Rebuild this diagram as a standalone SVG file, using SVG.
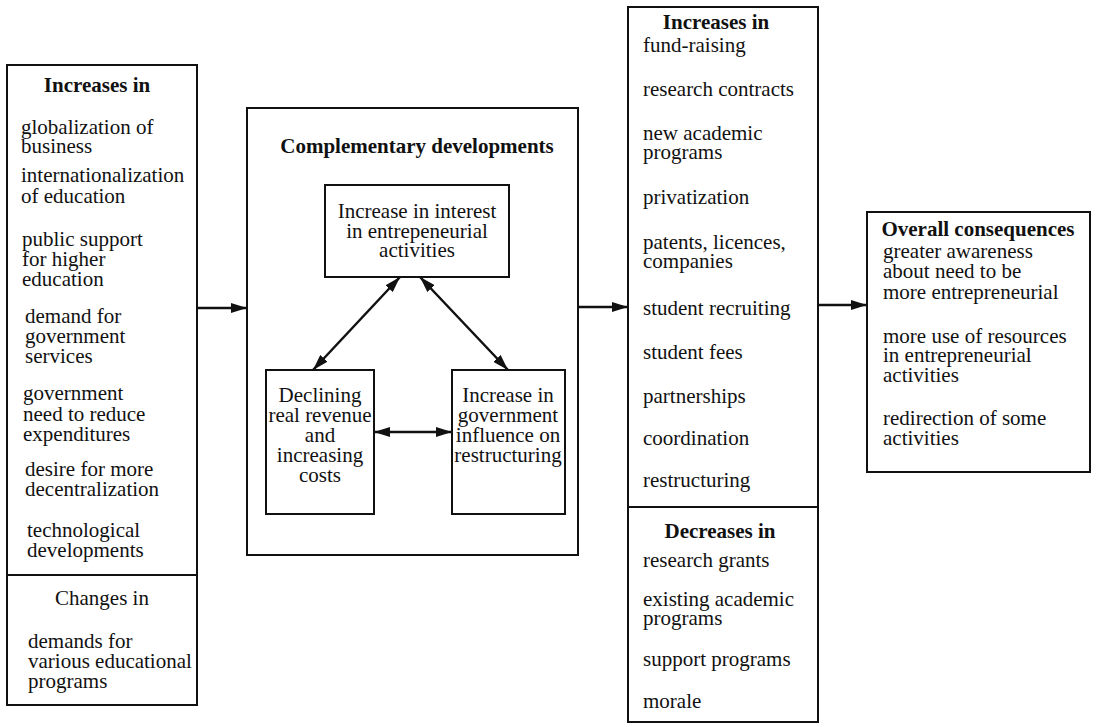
<svg xmlns="http://www.w3.org/2000/svg" width="1096" height="727" viewBox="0 0 1096 727">
<style>
text{font-family:"Liberation Serif","Times New Roman",serif;font-size:21px;fill:#111}
.h{font-weight:bold}
.c{text-anchor:middle}
.box{fill:none;stroke:#111;stroke-width:2}
.ar{fill:none;stroke:#111;stroke-width:2.5}
</style>
<defs>
<marker id="ah" viewBox="0 0 16 10" refX="16" refY="5" markerWidth="16" markerHeight="10" markerUnits="userSpaceOnUse" orient="auto-start-reverse"><path d="M0,0 L16,5 L0,10 z" fill="#111"/></marker>
</defs>
<rect width="1096" height="727" fill="#fff"/>

<g id="drivers">
<rect class="box" x="7" y="65" width="190" height="640"/>
<line class="box" x1="7" y1="575" x2="197" y2="575"/>
<text class="h c" x="97" y="92">Increases in</text>
<text x="21" y="134">globalization of</text>
<text x="21" y="153">business</text>
<text x="21" y="182">internationalization</text>
<text x="21" y="203">of education</text>
<text x="22" y="246">public support</text>
<text x="22" y="266">for higher</text>
<text x="22" y="286">education</text>
<text x="25" y="323">demand for</text>
<text x="25" y="343">government</text>
<text x="25" y="363">services</text>
<text x="23" y="400">government</text>
<text x="23" y="421">need to reduce</text>
<text x="23" y="441">expenditures</text>
<text x="25" y="476">desire for more</text>
<text x="25" y="496">decentralization</text>
<text x="27" y="537">technological</text>
<text x="27" y="557">developments</text>
<text class="c" x="102" y="605">Changes in</text>
<text x="28" y="648">demands for</text>
<text x="28" y="668">various educational</text>
<text x="28" y="688">programs</text>
</g>

<g id="complementary">
<rect class="box" x="247" y="108" width="331" height="447"/>
<text class="h c" x="417" y="153">Complementary developments</text>
</g>

<g id="interest">
<rect class="box" x="325" y="185" width="184" height="92"/>
<text class="c" x="417" y="218">Increase in interest</text>
<text class="c" x="417" y="238">in entrepeneurial</text>
<text class="c" x="417" y="257">activities</text>
</g>

<g id="declining">
<rect class="box" x="266" y="370" width="108" height="144"/>
<text class="c" x="320" y="402">Declining</text>
<text class="c" x="320" y="422">real revenue</text>
<text class="c" x="320" y="442">and</text>
<text class="c" x="320" y="462">increasing</text>
<text class="c" x="320" y="482">costs</text>
</g>

<g id="government">
<rect class="box" x="452" y="370" width="113" height="144"/>
<text class="c" x="508" y="402">Increase in</text>
<text class="c" x="508" y="422">government</text>
<text class="c" x="508" y="442">influence on</text>
<text class="c" x="508" y="462">restructuring</text>
</g>

<g id="changes">
<rect class="box" x="628" y="7" width="190" height="715"/>
<line class="box" x1="628" y1="507" x2="818" y2="507"/>
<text class="h c" x="716" y="29">Increases in</text>
<text x="643" y="52">fund-raising</text>
<text x="643" y="96">research contracts</text>
<text x="643" y="140">new academic</text>
<text x="643" y="159">programs</text>
<text x="643" y="204">privatization</text>
<text x="643" y="249">patents, licences,</text>
<text x="643" y="268">companies</text>
<text x="643" y="315">student recruiting</text>
<text x="643" y="359">student fees</text>
<text x="643" y="403">partnerships</text>
<text x="643" y="445">coordination</text>
<text x="643" y="487">restructuring</text>
<text class="h c" x="720" y="538">Decreases in</text>
<text x="643" y="567">research grants</text>
<text x="643" y="606">existing academic</text>
<text x="643" y="625">programs</text>
<text x="643" y="666">support programs</text>
<text x="643" y="708">morale</text>
</g>

<g id="consequences">
<rect class="box" x="867" y="212" width="223" height="260"/>
<text class="h c" x="978" y="236">Overall consequences</text>
<text x="883" y="258">greater awareness</text>
<text x="883" y="278">about need to be</text>
<text x="883" y="299">more entrepreneurial</text>
<text x="883" y="343">more use of resources</text>
<text x="883" y="362">in entrepreneurial</text>
<text x="883" y="382">activities</text>
<text x="883" y="425">redirection of some</text>
<text x="883" y="445">activities</text>
</g>

<g id="connectors">
<line class="ar" x1="197" y1="308" x2="247" y2="308" marker-end="url(#ah)"/>
<line class="ar" x1="578" y1="307" x2="628" y2="307" marker-end="url(#ah)"/>
<line class="ar" x1="818" y1="305" x2="867" y2="305" marker-end="url(#ah)"/>
<line class="ar" x1="400" y1="277" x2="313" y2="370" marker-start="url(#ah)" marker-end="url(#ah)"/>
<line class="ar" x1="420" y1="277" x2="508" y2="370" marker-start="url(#ah)" marker-end="url(#ah)"/>
<line class="ar" x1="374" y1="432" x2="452" y2="432" marker-start="url(#ah)" marker-end="url(#ah)"/>
</g>
</svg>
